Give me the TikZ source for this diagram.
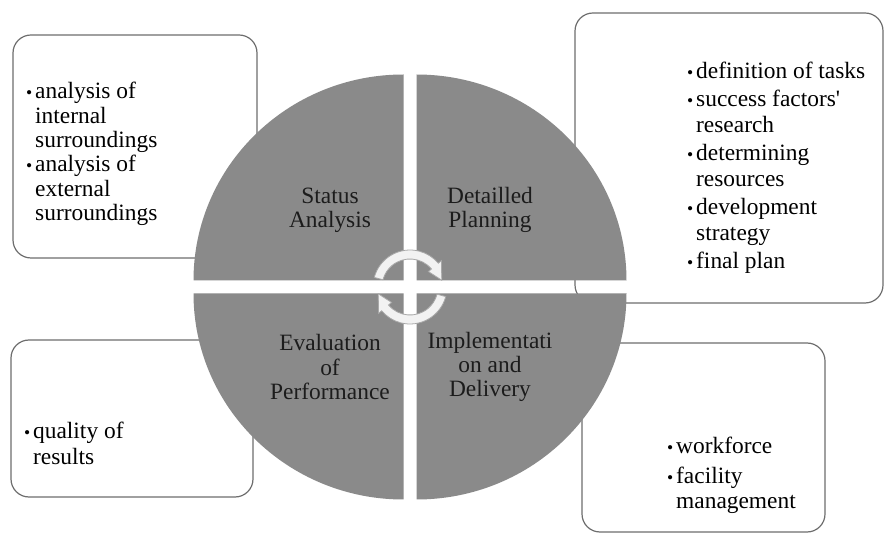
\documentclass[tikz,border=0pt]{standalone}
\usepackage{fontspec}
\setmainfont{Liberation Serif}
\usepackage{tikz}
\usetikzlibrary{positioning,calc}
\usepackage{xcolor}
\definecolor{disk}{HTML}{8A8A8A}
\definecolor{frame}{HTML}{6E6E6E}
\definecolor{ink}{HTML}{1C1C1C}
\definecolor{cyc}{HTML}{F2F2F2}
\definecolor{cycedge}{HTML}{A8A8A8}
\newcommand{\bul}{\makebox[9pt][l]{\scalebox{0.75}{\textbullet}}}
\newcommand{\ind}{\hspace*{9pt}}

\begin{document}
\begin{tikzpicture}[x=1pt,y=1pt,
    infobox/.style={draw=frame, line width=1.2pt, rounded corners=18pt, fill=white, inner sep=0pt},
    listtext/.style={anchor=north west, inner sep=0pt, align=left, text=black},
    quartertext/.style={align=center, inner sep=0pt, text=ink},
    cycarrow/.style={fill=cyc, draw=cycedge, line width=0.8pt},
    font=\fontsize{23.4}{24.4}\selectfont]
  \useasboundingbox (0,0) rectangle (884,-534);
  \fill[white] (0,0) rectangle (884,-534);

  % side boxes, drawn first so the disk covers them
  \node[infobox, minimum width=244, minimum height=223] (statusbox) at (135,-146.5) {};
  \node[infobox, minimum width=308, minimum height=290] (planbox) at (729,-158) {};
  \node[infobox, minimum width=242, minimum height=157] (evalbox) at (132,-418.5) {};
  \node[infobox, minimum width=243, minimum height=189] (implbox) at (703.5,-437.5) {};

  \node[listtext] (statuslist) at (26,-82)
    {\bul analysis of\\ \ind internal\\ \ind surroundings\\
     \bul analysis of\\ \ind external\\ \ind surroundings};
  \node[listtext, font=\fontsize{23.4}{26}\selectfont] (planlist) at (687,-62)
    {\bul definition of tasks\\[2pt] \bul success factors\textquotesingle\\ \ind research\\[2pt]
     \bul determining\\ \ind resources\\[2pt] \bul development\\ \ind strategy\\[2pt]
     \bul final plan};
  \node[listtext, font=\fontsize{23.4}{26}\selectfont] (evallist) at (24,-422)
    {\bul quality of\\ \ind results};
  \node[listtext, font=\fontsize{23.4}{25}\selectfont] (impllist) at (667,-437)
    {\bul workforce\\[5pt] \bul facility\\ \ind management};

  % the four quarters
  \coordinate (c) at (410,-287);
  \foreach \a/\sx/\sy in {0/1/1, 90/-1/1, 180/-1/-1, 270/1/-1}
    \fill[disk] ($(c)+(6.5*\sx,6.5*\sy)$) -- ++(\a:210 and 206)
      arc[start angle=\a, delta angle=90, x radius=210, y radius=206] -- cycle;

  \node[quartertext] (status) at (330,-210) {Status\\Analysis};
  \node[quartertext] (planning) at (490,-210) {Detailled\\Planning};
  \node[quartertext] (evaluation) at (330,-367) {Evaluation\\of\\Performance};
  \node[quartertext] (implementation) at (490,-367) {Implementati\\on and\\Delivery};

  % cycle arrows in the middle
  \foreach \r in {0,180}
    \filldraw[cycarrow] ($(c)+(165+\r:37)$) arc[start angle=165+\r, end angle=40+\r, radius=37]
      -- ($(c)+(40+\r:41)$) -- ($(c)+(12+\r:32.5)$) -- ($(c)+(40+\r:24)$) -- ($(c)+(40+\r:28)$)
      arc[start angle=40+\r, end angle=165+\r, radius=28] -- cycle;
\end{tikzpicture}
\end{document}
